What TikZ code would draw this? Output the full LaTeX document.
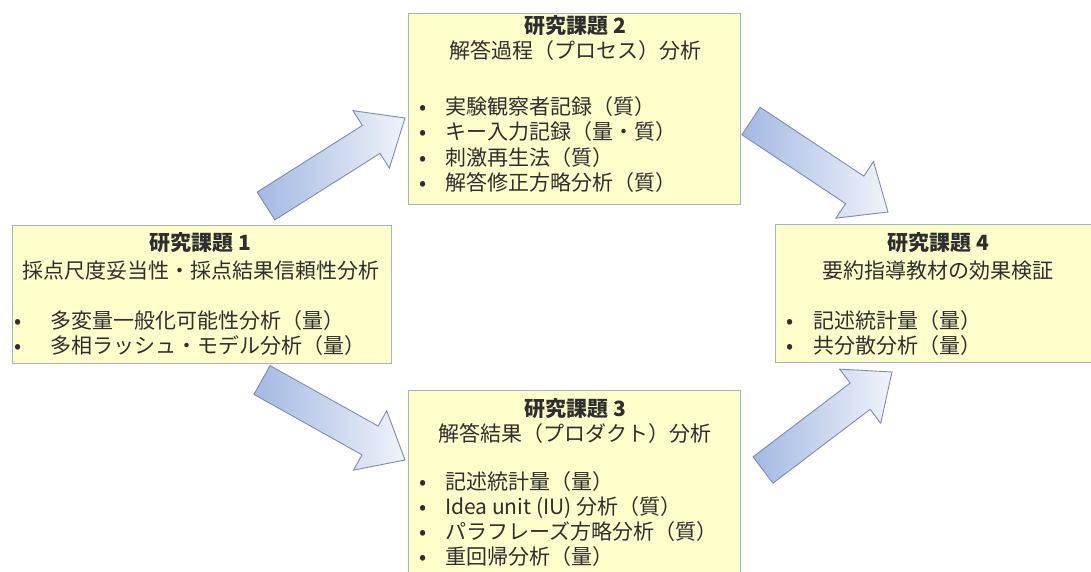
\documentclass[tikz,border=0pt]{standalone}
\usepackage{fontspec}
\setmainfont{Noto Sans CJK JP}
\usetikzlibrary{calc}
\definecolor{boxfill}{HTML}{FFFFCC}
\definecolor{boxline}{HTML}{A2B7C2}
\definecolor{arrdark}{HTML}{A3B8E2}
\definecolor{arrlight}{HTML}{F0F3FA}
\definecolor{arrline}{HTML}{7E8DAE}
\definecolor{txt}{HTML}{2E2E2E}
\newcommand\fs{\fontsize{21}{25}\selectfont}
\tikzset{
  box/.style={draw=boxline, line width=1.2pt, fill=boxfill, anchor=north west, inner sep=0pt},
  ttl/.style={font=\fs\bfseries, text=txt, anchor=base, inner sep=0pt},
  sub/.style={font=\fs, text=txt, anchor=base, inner sep=0pt},
  item/.style={font=\fs, text=txt, anchor=base west, inner sep=0pt},
  bul/.style={font=\fs, text=txt, anchor=base, inner sep=0pt},
  blockarrow/.style={draw=arrline, line width=0.9pt, left color=arrdark, right color=arrlight},
}
\newcommand\blockarr[2]{%
  \path let \p1=($(#2)-(#1)$) in \pgfextra{%
    \pgfmathsetmacro\arrlen{veclen(\x1,\y1)}%
    \pgfmathsetmacro\arrang{atan2(\y1,\x1)}%
    \global\let\arrlenG\arrlen\global\let\arrangG\arrang};
  \begin{scope}[shift={(#1)}, rotate=\arrangG]
    \draw[blockarrow] (0,16.5) -- ({\arrlenG-40},16.5) -- ({\arrlenG-40},34) -- (\arrlenG,0)
      -- ({\arrlenG-40},-34) -- ({\arrlenG-40},-16.5) -- (0,-16.5) -- cycle;
  \end{scope}}
\begin{document}
\begin{tikzpicture}[x=1pt,y=-1pt]
\useasboundingbox (0,0) rectangle (1091,572);
\clip (0,0) rectangle (1091,572);
% boxes
\node[box, minimum width=379pt, minimum height=138pt] (b1) at (12,225) {};
\node[box, minimum width=332pt, minimum height=191pt] (b2) at (408,13) {};
\node[box, minimum width=332pt, minimum height=200pt] (b3) at (408,390) {};
\node[box, minimum width=330pt, minimum height=138pt] (b4) at (775,224) {};
% box 1
\node[ttl] (t1) at (200,250) {研究課題 1};
\node[sub] (s1) at (201,278) {採点尺度妥当性・採点結果信頼性分析};
\node[bul] (p1a) at (18,328) {•};
\node[item] (i1a) at (50,328) {多変量一般化可能性分析（量）};
\node[bul] (p1b) at (18,353) {•};
\node[item] (i1b) at (50,353) {多相ラッシュ・モデル分析（量）};
% box 2
\node[ttl] (t2) at (575,34) {研究課題 2};
\node[sub] (s2) at (575,59) {解答過程（プロセス）分析};
\node[bul] (p2a) at (423,115) {•};
\node[item] (i2a) at (445,115) {実験観察者記録（質）};
\node[bul] (p2b) at (423,140) {•};
\node[item] (i2b) at (445,140) {キー入力記録（量・質）};
\node[bul] (p2c) at (423,165) {•};
\node[item] (i2c) at (445,165) {刺激再生法（質）};
\node[bul] (p2d) at (423,190) {•};
\node[item] (i2d) at (445,190) {解答修正方略分析（質）};
% box 3
\node[ttl] (t3) at (575,416) {研究課題 3};
\node[sub] (s3) at (575,441) {解答結果（プロダクト）分析};
\node[bul] (p3a) at (423,489) {•};
\node[item] (i3a) at (445,489) {記述統計量（量）};
\node[bul] (p3b) at (423,514) {•};
\node[item] (i3b) at (445,514) {Idea unit (IU) 分析（質）};
\node[bul] (p3c) at (423,539) {•};
\node[item] (i3c) at (445,539) {パラフレーズ方略分析（質）};
\node[bul] (p3d) at (423,564) {•};
\node[item] (i3d) at (445,564) {重回帰分析（量）};
% box 4
\node[ttl] (t4) at (938,250) {研究課題 4};
\node[sub] (s4) at (938,278) {要約指導教材の効果検証};
\node[bul] (p4a) at (790,328) {•};
\node[item] (i4a) at (813,328) {記述統計量（量）};
\node[bul] (p4b) at (790,353) {•};
\node[item] (i4b) at (813,353) {共分散分析（量）};
% arrows
\coordinate (a1s) at (266,206); \coordinate (a1e) at (405,118);
\coordinate (a2s) at (262,380); \coordinate (a2e) at (405,460);
\coordinate (a3s) at (751,121); \coordinate (a3e) at (888,212);
\coordinate (a4s) at (763,470); \coordinate (a4e) at (892,372);
\blockarr{a1s}{a1e}
\blockarr{a2s}{a2e}
\blockarr{a3s}{a3e}
\blockarr{a4s}{a4e}
\end{tikzpicture}
\end{document}
